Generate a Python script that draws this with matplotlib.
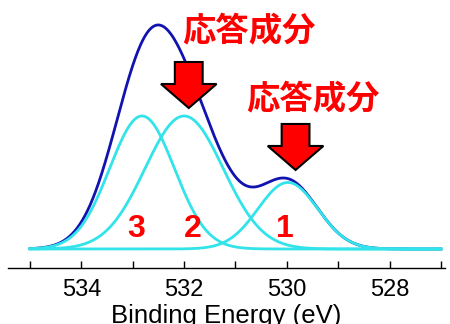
import numpy as np
import matplotlib.pyplot as plt
from matplotlib.patches import Polygon

# XPS O1s peak fit (arbitrary intensity units, component 3 height = 1)
peak_names = ['1', '2', '3']
peak_centers = [529.98, 532.00, 532.82]   # eV
peak_heights = [0.50, 1.00, 1.00]
peak_sigmas = [0.58, 0.76, 0.63]          # eV
energy_range = (535.0, 527.0)

# components with the "応答成分" label (arrow markers)
marked_peaks = ['2', '1']
marker_text = '応答成分'

BLUE = '#1212b0'
CYAN = '#33e3ea'
RED = '#ff0000'

energy = np.linspace(energy_range[0], energy_range[1], 801)
components = [h * np.exp(-(energy - c) ** 2 / (2 * s ** 2))
              for c, h, s in zip(peak_centers, peak_heights, peak_sigmas)]
total = np.sum(components, axis=0)

fig = plt.figure(figsize=(4.5, 3.24), dpi=100)
ax = fig.add_axes([8 / 450, 56 / 324, 437 / 450, 268 / 324])

ax.plot(energy, total, color=BLUE, linewidth=2.0, zorder=2)
for comp in components:
    ax.plot(energy, comp, color=CYAN, linewidth=2.0, zorder=3)

ax.set_xlim(535.43, 526.92)
ax.set_ylim(-0.143, 1.872)

for side in ['top', 'left', 'right']:
    ax.spines[side].set_visible(False)
ax.spines['bottom'].set_linewidth(1.0)
ax.set_yticks([])
ax.set_xticks([534, 532, 530, 528])
ax.set_xticks([535, 533, 531, 529, 527], minor=True)
ax.tick_params(axis='x', which='both', direction='in', length=5, width=1.0,
               pad=8, labelsize=17)
for lab in ax.get_xticklabels():
    lab.set_family('Liberation Sans')
ax.set_xlabel('Binding Energy (eV)', fontsize=18.5, family='Liberation Sans',
              labelpad=2)

# component numbers
for name, c in zip(peak_names, peak_centers):
    dx = {'1': 0.06, '2': -0.16, '3': 0.12}[name]
    ax.text(c + dx, 0.15, name, color=RED, fontsize=23, fontweight='bold',
            family='Liberation Sans', ha='center', va='center')

# arrows + labels
px_x = 51.7   # px per eV
px_y = 133.0  # px per intensity unit
arrow_tips = {'2': 1.06, '1': 0.594}
text_pos = {'2': (-1.18, 0.57), '1': (-0.33, 0.53)}
for name in marked_peaks:
    c = peak_centers[peak_names.index(name)]
    c = c - 0.09 if name == '2' else c - 0.15
    tip = arrow_tips[name]
    hw, sw = 28 / px_x, 14 / px_x
    hh, sh = 24 / px_y, 22 / px_y
    pts = [(c, tip), (c + hw, tip + hh), (c + sw, tip + hh), (c + sw, tip + hh + sh),
           (c - sw, tip + hh + sh), (c - sw, tip + hh), (c - hw, tip + hh)]
    ax.add_patch(Polygon(pts, closed=True, facecolor=RED, edgecolor='black',
                         linewidth=1.5, zorder=5))
    dx, dy = text_pos[name]
    ax.text(c + dx, tip + dy, marker_text, color=RED, fontsize=24,
            fontweight='bold', family=['Noto Sans CJK JP', 'DejaVu Sans'],
            ha='center', va='center', zorder=6)

fig.savefig('out.png', dpi=100)
